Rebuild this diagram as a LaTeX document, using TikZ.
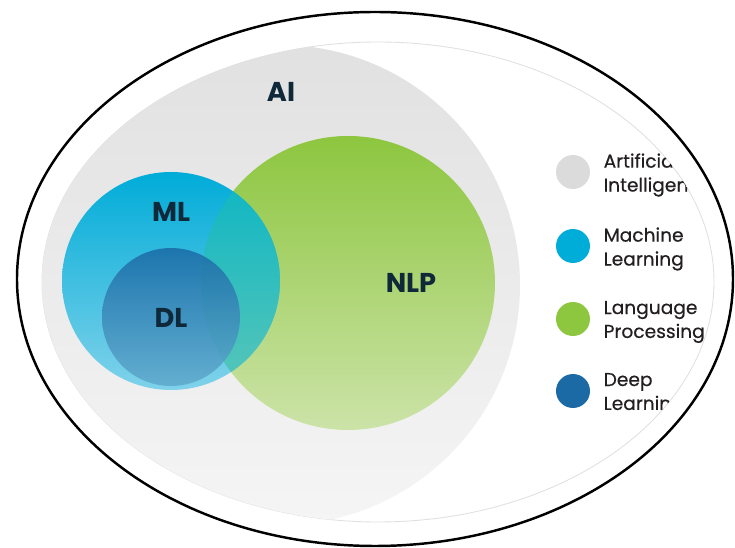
\documentclass[tikz,border=0pt]{standalone}
\usepackage{fontspec}
\setmainfont{Poppins}
\newfontfamily\keyfont{Poppins}[FakeBold=0.5]
\usetikzlibrary{positioning}

\definecolor{aigrey}{HTML}{E1E1E1}
\definecolor{aigreylow}{HTML}{F5F5F5}
\definecolor{mlblue}{HTML}{00ACD8}
\definecolor{mlbluelow}{HTML}{80D2EA}
\definecolor{nlpgreen}{HTML}{8DC63F}
\definecolor{nlpgreenlow}{HTML}{CCE3A8}
\definecolor{mixteal}{HTML}{00B3C6}
\definecolor{mixteallow}{HTML}{66C9B6}
\definecolor{dlblue}{HTML}{1B6AA6}
\definecolor{dlbluelow}{HTML}{5FA9CD}
\definecolor{labelnavy}{HTML}{10293A}
\definecolor{keyink}{HTML}{231F20}

\begin{document}
\begin{tikzpicture}[x=0.02cm,y=0.02cm,
		tag/.style={font=\bfseries\fontsize{15.5}{17}\selectfont,text=labelnavy},
		dot/.style={circle,minimum size=0.68cm,inner sep=0pt},
		keytext/.style={font=\keyfont\fontsize{10.6}{13.6}\selectfont,align=left,inner sep=0pt,text=keyink,yshift=-0.06cm}]
	\useasboundingbox (0,0) rectangle (735,548);
	\def\inner{(378,266) ellipse [x radius=336,y radius=240]}
	% frame
	\draw[line width=1.4pt] (375,269) ellipse [x radius=358,y radius=267];
	\draw[black!12,line width=0.5pt] \inner;
	% AI area
	\begin{scope}
		\clip \inner;
		\shade[top color=aigrey,bottom color=aigreylow] (280,263) circle [radius=240];
	\end{scope}
	% NLP
	\shade[top color=nlpgreen,bottom color=nlpgreenlow] (348,265) circle [radius=147];
	% ML
	\shade[top color=mlblue,bottom color=mlbluelow] (171,267) circle [radius=109];
	\begin{scope}
		\clip (171,267) circle [radius=109];
		\shade[top color=mixteal,bottom color=mixteallow] (348,265) circle [radius=147];
	\end{scope}
	% DL
	\shade[top color=dlblue,bottom color=dlbluelow,fill opacity=0.85] (171,231) circle [radius=69];
	% labels
	\node[tag] (ai) at (281,456) {AI};
	\node[tag] (ml) at (171,336) {ML};
	\node[tag] (dl) at (171,230) {DL};
	\node[tag] (nlp) at (411,265) {NLP};
	% legend
	\node[dot,fill=black!14] (dotai) at (573,376) {};
	\node[dot,fill=mlblue] (dotml) at (573,302) {};
	\node[dot,fill=nlpgreen] (dotnlp) at (573,229) {};
	\node[dot,fill=dlblue] (dotdl) at (573,157) {};
	\begin{scope}
		\clip \inner;
		\node[keytext,right=0.26cm of dotai] (keyai) {Artificial\\Intelligence};
		\node[keytext,right=0.26cm of dotml] (keyml) {Machine\\Learning};
		\node[keytext,right=0.26cm of dotnlp] (keynlp) {Language\\Processing};
		\node[keytext,right=0.26cm of dotdl] (keydl) {Deep\\Learning};
	\end{scope}
\end{tikzpicture}
\end{document}
